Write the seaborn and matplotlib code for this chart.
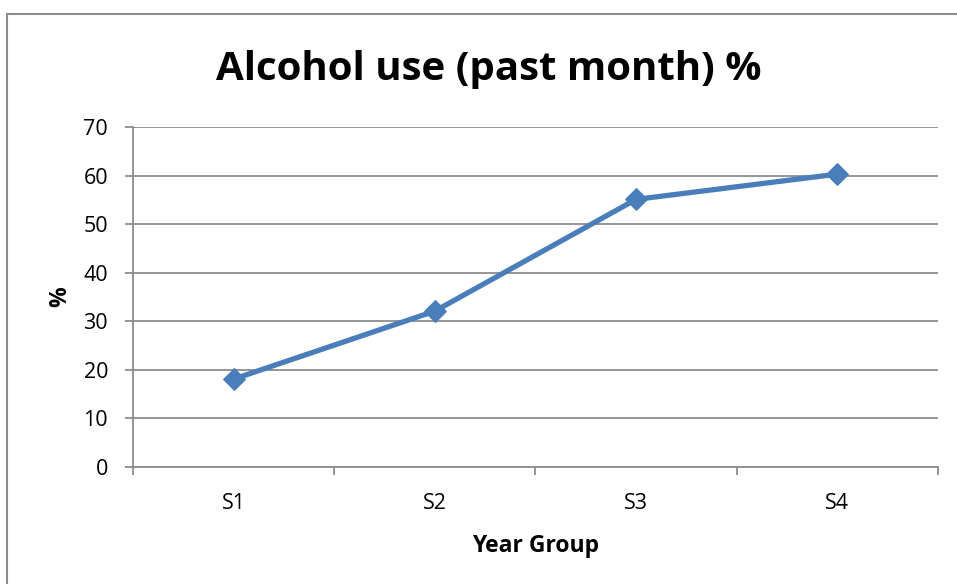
import numpy as np
import matplotlib.pyplot as plt
import seaborn as sns
from matplotlib.patches import Rectangle

# chart data
year_groups = ["S1", "S2", "S3", "S4"]
alcohol_pct = [18.1, 32.1, 55.1, 60.3]
y_ticks = [0, 10, 20, 30, 40, 50, 60, 70]

sns.set_theme(style="white")
plt.rcParams['font.family'] = ['Open Sans', 'DejaVu Sans']
plt.rcParams['text.color'] = 'black'
plt.rcParams['axes.labelcolor'] = 'black'

fig = plt.figure(figsize=(9.57, 5.84), dpi=100)
ax = fig.add_axes([0.139, 0.2003, 0.841, 0.5822])

# outer chart border (Excel style frame)
fig.patches.append(Rectangle((7 / 957, -0.1), 1.2, 1 - 14 / 584 + 0.1, transform=fig.transFigure,
                             fill=False, edgecolor="#8c8c8c", linewidth=1.5))

x_pos = np.arange(len(year_groups))
sns.lineplot(x=x_pos, y=alcohol_pct, ax=ax, color="#4a7ebb", linewidth=3.8,
             marker="D", markersize=11, markeredgecolor="#4a7ebb")

ax.set_xlim(-0.5, 3.5)
ax.set_ylim(0, 70)
ax.set_yticks(y_ticks)
ax.set_xticks(np.arange(-0.5, 4, 1))
ax.set_xticklabels([])
ax.set_xticks(x_pos, minor=True)
ax.set_xticklabels(year_groups, minor=True)

ax.grid(axis="y", color="#8c8c8c", linewidth=1.3)
ax.set_axisbelow(True)
for side in ["top", "right"]:
    ax.spines[side].set_visible(False)
for side in ["left", "bottom"]:
    ax.spines[side].set_color("#8c8c8c")
    ax.spines[side].set_linewidth(1.3)

ax.tick_params(axis="both", which="major", direction="out", length=6, width=1.3,
               color="#8c8c8c", labelsize=15.5, labelcolor="black", pad=12)
ax.tick_params(axis="y", left=True)
ax.tick_params(axis="x", which="major", bottom=True)
ax.tick_params(axis="x", which="minor", length=0, labelsize=15.5, labelcolor="black", pad=19)

ax.set_xlabel("Year Group", fontsize=16.5, fontweight="bold", labelpad=14)
ax.set_ylabel("%", fontsize=16.5, fontweight="bold", labelpad=8)

fig.text(0.511, 1 - 80 / 584, "Alcohol use (past month) %", ha="center", va="baseline",
         fontsize=29, fontweight="bold", color="black")

fig.savefig("out.png", dpi=100)
